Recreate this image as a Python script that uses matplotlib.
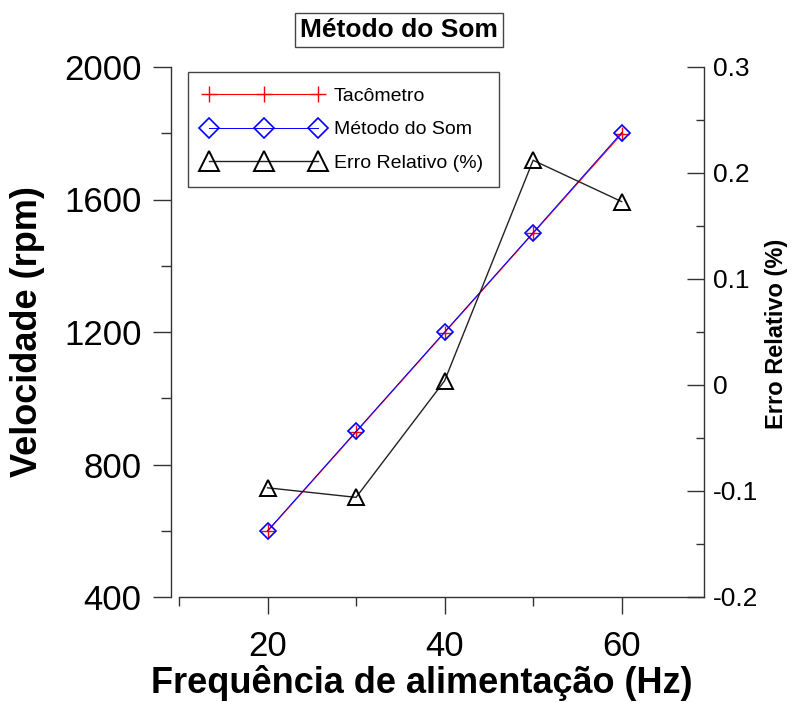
import matplotlib
matplotlib.use("Agg")
import matplotlib.pyplot as plt
from matplotlib.ticker import MultipleLocator, FixedLocator

# data
freq = [20, 30, 40, 50, 60]
tacometro = [598, 898, 1198, 1498, 1798]
metodo_som = [600, 900, 1200, 1500, 1802]
erro_relativo = [-0.097, -0.106, 0.004, 0.212, 0.173]

left_ticks = [400, 800, 1200, 1600, 2000]
right_ticks = [-0.2, -0.1, 0.0, 0.1, 0.2, 0.3]
right_labels = ['-0.2', '-0.1', '0', '0.1', '0.2', '0.3']
x_ticks = [20, 40, 60]

plt.rcParams['font.family'] = ['Liberation Sans', 'DejaVu Sans']
plt.rcParams['axes.unicode_minus'] = False

fig = plt.figure(figsize=(7.91, 7.02), dpi=100)
ax = fig.add_axes([179 / 791, 1 - 597 / 702, (704 - 179) / 791, (597 - 67) / 702])
ax2 = ax.twinx()

spine_col = '#333333'

# main series (blue drawn over the red line, as in the original)
ax.plot(freq, tacometro, color='red', lw=0.8, marker='+', ms=10,
        mew=1.0, label='Tacômetro', zorder=2)
ax.plot(freq, metodo_som, color='blue', lw=0.7, marker='D', ms=8.5,
        mfc='none', mec='blue', mew=1.2, label='Método do Som', zorder=3)
ax2.plot(freq, erro_relativo, color='#222222', lw=1.0, marker='^', ms=12,
         mfc='none', mec='black', mew=1.4, label='Erro Relativo (%)')

ax.set_xlim(10, 69.3)
ax.set_ylim(400, 2000)
ax2.set_ylim(-0.2, 0.3)

# left axis
ax.set_yticks(left_ticks)
ax.yaxis.set_minor_locator(MultipleLocator(200))
ax.tick_params(axis='y', which='major', direction='out', length=13, width=1,
               color=spine_col, labelsize=25, pad=8)
ax.tick_params(axis='y', which='minor', direction='out', length=7, width=1,
               color=spine_col)
# bottom axis
ax.set_xticks(x_ticks)
ax.xaxis.set_minor_locator(FixedLocator([10, 30, 50]))
ax.tick_params(axis='x', which='major', direction='out', length=12, width=1,
               color=spine_col, labelsize=25, pad=12)
ax.tick_params(axis='x', which='minor', direction='out', length=6.5, width=1,
               color=spine_col)
# right axis
ax2.yaxis.set_major_locator(FixedLocator(right_ticks))
ax2.set_yticklabels(right_labels)
ax2.yaxis.set_minor_locator(MultipleLocator(0.05))
ax2.tick_params(axis='y', which='major', direction='in', length=12, width=1,
                color=spine_col, labelsize=19, pad=6.5)
ax2.tick_params(axis='y', which='minor', direction='in', length=6, width=1,
                color=spine_col)

ax.spines['top'].set_visible(False)
ax.spines['right'].set_visible(False)
ax.spines['left'].set_position(('outward', 6))
for s in ['left', 'bottom']:
    ax.spines[s].set_color(spine_col)
    ax.spines[s].set_linewidth(1)
for s in ['left', 'top', 'bottom']:
    ax2.spines[s].set_visible(False)
ax2.spines['right'].set_color(spine_col)
ax2.spines['right'].set_linewidth(1)

# labels
fig.text(28 / 791, 1 - 332 / 702, 'Velocidade (rpm)', rotation=90,
         fontsize=26, fontweight='bold', ha='center', va='center')
fig.text(422 / 791, 1 - 693 / 702, 'Frequência de alimentação (Hz)',
         fontsize=26, fontweight='bold', ha='center', va='baseline')
fig.text(777 / 791, 1 - 334 / 702, 'Erro Relativo (%)', rotation=90,
         fontsize=17, fontweight='bold', ha='center', va='center')

fig.text(399 / 791, 1 - 30 / 702, 'Método do Som', fontsize=19,
         fontweight='bold', ha='center', va='center',
         bbox=dict(boxstyle='square,pad=0.2', fc='white', ec='#444444', lw=1))

# legend
h1, l1 = ax.get_legend_handles_labels()
h2, l2 = ax2.get_legend_handles_labels()
leg = ax.legend(h1 + h2, l1 + l2, loc='upper left',
                bbox_to_anchor=(188 / 791, 1 - 72 / 702),
                bbox_transform=fig.transFigure, borderaxespad=0,
                numpoints=3, markerscale=1.2,
                prop={'size': 14}, handlelength=6.2, handletextpad=0.5,
                borderpad=0.8, labelspacing=0.8, fancybox=False,
                framealpha=1, edgecolor='#444444')
leg.get_frame().set_linewidth(1)
leg.set_zorder(10)

fig.savefig('out.png', dpi=100)
